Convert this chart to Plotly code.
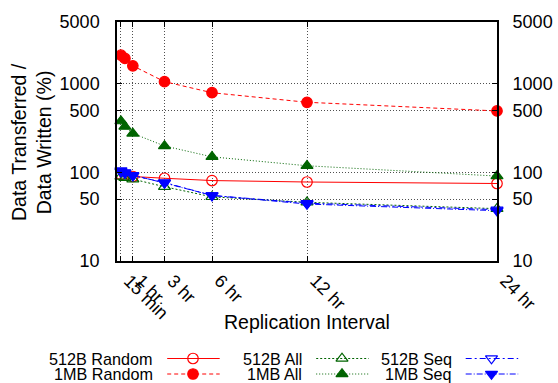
import plotly.graph_objects as go
import math

# ---------------- data ----------------
interval_hr = [0.25, 0.5, 1, 3, 6, 12, 24]
tick_vals = [0.25, 1, 3, 6, 12, 24]
tick_text = ["15 min", "1 hr", "3 hr", "6 hr", "12 hr", "24 hr"]
y_ticks = [10, 50, 100, 500, 1000, 5000]

random_512b = [95, 93, 90, 86, 81, 78, 75]
random_1mb = [2110, 1940, 1600, 1060, 795, 620, 495]
all_512b = [90, 87, 84, 69, 53, 46, 39]
all_1mb = [380, 330, 276, 199, 150, 119, 91]
seq_512b = [102, 98, 92, 77, 55, 45, 38]
seq_1mb = [105, 100, 93, 76, 55, 44, 37]

series_names = ["512B Random", "1MB Random", "512B All", "1MB All", "512B Seq", "1MB Seq"]
series_values = [random_512b, random_1mb, all_512b, all_1mb, seq_512b, seq_1mb]

# ---------------- styles ----------------
RED, GREEN, BLUE = "#ff0000", "#006400", "#0000ff"
styles = [
    dict(color=RED, dash="solid", symbol="circle-open"),
    dict(color=RED, dash="4px,3px", symbol="circle"),
    dict(color=GREEN, dash="2px,2px", symbol="triangle-up-open"),
    dict(color=GREEN, dash="1px,2px", symbol="triangle-up"),
    dict(color=BLUE, dash="6px,3px,2px,3px", symbol="triangle-down-open"),
    dict(color=BLUE, dash="6px,2px,1px,2px", symbol="triangle-down"),
]

W, H = 558, 383
L, R, T, B = 117, 497, 22, 261
FONT = "Liberation Sans, Arial, Helvetica, sans-serif"

fig = go.Figure()
for name, vals, st in zip(series_names, series_values, styles):
    fig.add_trace(go.Scatter(
        x=interval_hr, y=vals, name=name, mode="lines+markers",
        line=dict(color=st["color"], dash=st["dash"], width=1),
        marker=dict(symbol=st["symbol"], size=10.5, color=st["color"],
                    line=dict(color=st["color"], width=1.2)),
        cliponaxis=False, showlegend=False,
    ))

# ---------------- custom legend (gnuplot style: text, then sample) ----------------
col_text_right = [154.2, 303.2, 452.7]
row_y = [358.5, 374]
order = [(0, 0), (0, 1), (1, 0), (1, 1), (2, 0), (2, 1)]  # (col,row) per series
annotations = []
for (col, row), name, st in zip(order, series_names, styles):
    xr = col_text_right[col]
    yy = row_y[row]
    fig.add_trace(go.Scatter(
        x=[xr + 13, xr + 65.5], y=[yy, yy], mode="lines", xaxis="x2", yaxis="y3",
        line=dict(color=st["color"], dash=st["dash"], width=1),
        showlegend=False, hoverinfo="skip"))
    fig.add_trace(go.Scatter(
        x=[xr + 38.8], y=[yy], mode="markers", xaxis="x2", yaxis="y3",
        marker=dict(symbol=st["symbol"], size=10.5, color=st["color"],
                    line=dict(color=st["color"], width=1.2)),
        showlegend=False, hoverinfo="skip", cliponaxis=False))
    annotations.append(dict(
        text=name, x=xr / W, y=1 - yy / H, xref="paper", yref="paper",
        xanchor="right", yanchor="middle", showarrow=False, borderpad=0,
        font=dict(family=FONT, size=16.2, color="black")))

# rotated x tick labels (gnuplot style: text starts at the tick)
for tv, tt in zip(tick_vals, tick_text):
    annotations.append(dict(
        text=tt, x=tv, xref="x", y=1 - 268 / H, yref="paper",
        xanchor="left", yanchor="top", xshift=-4, textangle=45, showarrow=False,
        font=dict(family=FONT, size=18, color="black")))

# y-axis title (two lines)
annotations.append(dict(
    text="Data Transferred /<br>Data Written (%)", x=31 / W, y=1 - 142 / H,
    xref="paper", yref="paper", xanchor="center", yanchor="middle",
    textangle=-90, showarrow=False,
    font=dict(family=FONT, size=19.5, color="black")))
# x-axis title
annotations.append(dict(
    text="Replication Interval", x=307 / W, y=1 - 322 / H,
    xref="paper", yref="paper", xanchor="center", yanchor="middle",
    showarrow=False, font=dict(family=FONT, size=19.5, color="black")))

logr = [1, math.log10(5000)]
grid = dict(showgrid=True, gridcolor="#505050", griddash="1px,2px", gridwidth=1)

fig.update_layout(
    width=W, height=H, margin=dict(l=0, r=0, t=0, b=0, autoexpand=False),
    paper_bgcolor="white", plot_bgcolor="white",
    font=dict(family=FONT, size=18, color="black"),
    showlegend=False,
    xaxis=dict(domain=[L / W, R / W], range=[0, 24], tickvals=tick_vals, ticktext=tick_text,
               showticklabels=False, ticks="inside", ticklen=5, tickcolor="black",
               showline=True, linecolor="black", linewidth=1.5, mirror="ticks",
               zeroline=False, anchor="y", automargin=False, **grid),
    yaxis=dict(domain=[1 - B / H, 1 - T / H], type="log", range=logr, tickvals=y_ticks,
               ticktext=[str(v) for v in y_ticks], ticks="inside", ticklen=5, tickcolor="black",
               showline=True, linecolor="black", linewidth=1.5, mirror="ticks",
               zeroline=False, anchor="x", tickfont=dict(size=18), ticklabelstandoff=12,
               automargin=False, **grid),
    yaxis2=dict(overlaying="y", side="right", type="log", range=logr, tickvals=y_ticks,
                ticktext=[str(v) for v in y_ticks], ticks="outside", ticklen=1,
                tickcolor="rgba(0,0,0,0)", showgrid=False, ticklabelstandoff=10,
                showline=False, zeroline=False, anchor="x", tickfont=dict(size=18),
                automargin=False),
    xaxis2=dict(domain=[0, 1], range=[0, W], visible=False, anchor="y3", fixedrange=True,
                automargin=False),
    yaxis3=dict(domain=[0, 46 / H], range=[H, H - 46], visible=False, anchor="x2",
                fixedrange=True, automargin=False),
    annotations=annotations,
)

# invisible trace to anchor right-hand axis
fig.add_trace(go.Scatter(x=interval_hr, y=random_1mb, yaxis="y2", mode="markers",
                         marker=dict(opacity=0), showlegend=False, hoverinfo="skip"))

fig.write_html("out.html", config={"displayModeBar": False},
               post_script="document.body.style.margin='0';")
